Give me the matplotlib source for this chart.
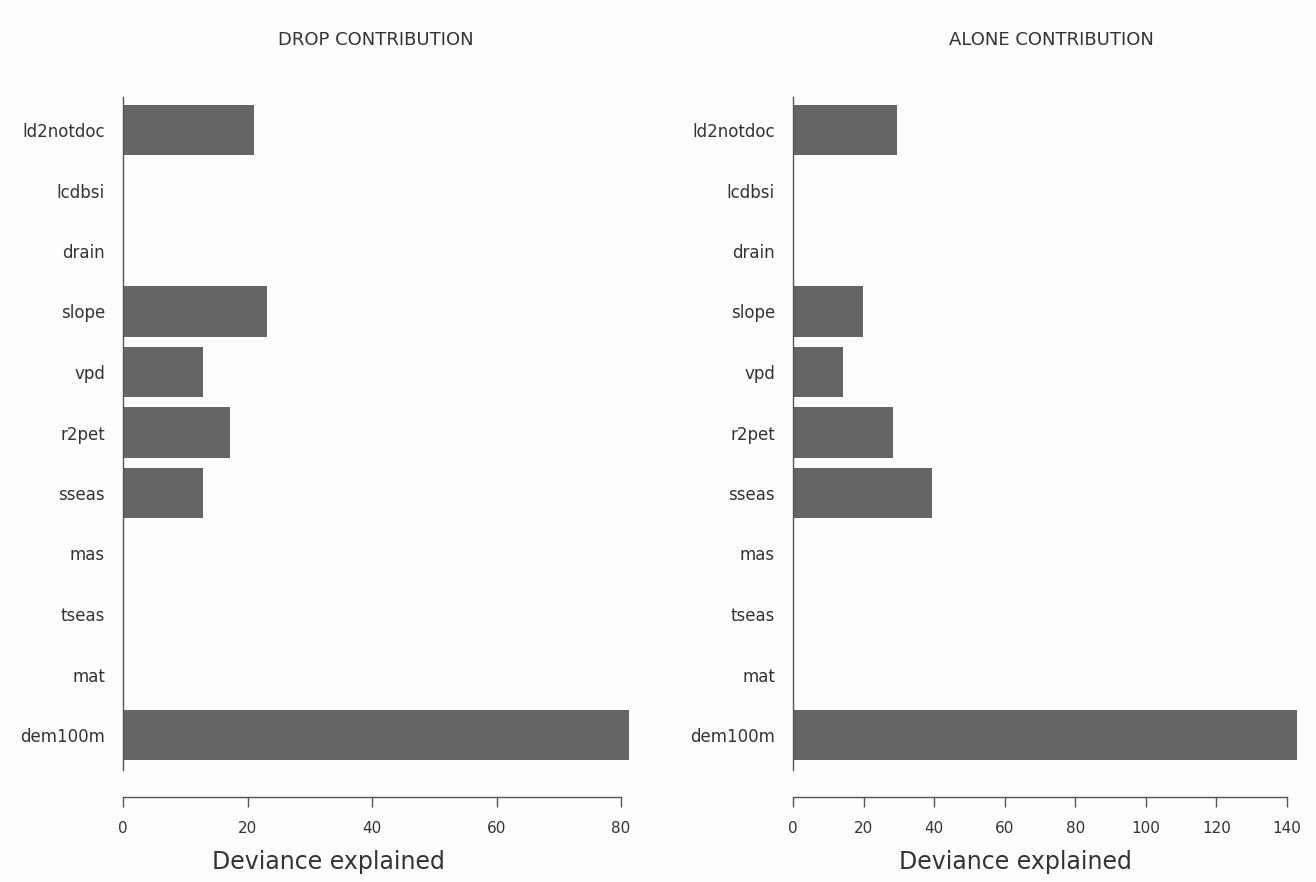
import numpy as np
import matplotlib.pyplot as plt

# predictor names, bottom to top as drawn
predictors = ["dem100m", "mat", "tseas", "mas", "sseas", "r2pet",
              "vpd", "slope", "drain", "lcdbsi", "ld2notdoc"]

# deviance explained when each predictor is dropped / used alone
drop_contrib = [81.3, 0, 0, 0, 12.8, 17.2, 12.8, 23.1, 0, 0, 21.1]
alone_contrib = [142.8, 0, 0, 0, 39.4, 28.3, 14.2, 19.8, 0, 0, 29.5]

drop_ticks = [0, 20, 40, 60, 80]
alone_ticks = [0, 20, 40, 60, 80, 100, 120, 140]

bar_col = "#646567"
axis_col = "#555555"
text_col = "#333333"

W, H = 1316, 882
fig = plt.figure(figsize=(W / 100, H / 100), dpi=100)
fig.patch.set_facecolor("#fdfdfd")

# pixel layout of each panel: left, last tick, right, x-label centre, title centre
panels = [
    ("DROP CONTRIBUTION", drop_contrib, drop_ticks, 123, 621, 640, 328, 376),
    ("ALONE CONTRIBUTION", alone_contrib, alone_ticks, 793, 1287, 1310, 1015, 1051),
]
top_px, bottom_px = 90, 797
y_first, y_last = 735, 130  # centres of lowest and highest bars
step = (y_first - y_last) / (len(predictors) - 1)

for title, vals, ticks, x0, xtick_end, x1, xlab_c, title_c in panels:
    ax = fig.add_axes([x0 / W, 1 - bottom_px / H, (x1 - x0) / W,
                       (bottom_px - top_px) / H])
    ax.set_facecolor("none")
    per_unit = (xtick_end - x0) / ticks[-1]
    ax.set_xlim(0, (x1 - x0) / per_unit)
    ylo = -(bottom_px - y_first) / step
    yhi = len(predictors) - 1 + (y_last - top_px) / step
    ax.set_ylim(ylo, yhi)

    pos = np.arange(len(predictors))
    ax.barh(pos, vals, height=0.84, color=bar_col, edgecolor="none")

    ax.set_yticks(pos)
    ax.set_yticklabels(predictors)
    ax.set_xticks(ticks)
    ax.tick_params(axis="y", length=0, pad=13, labelsize=12,
                   labelcolor=text_col)
    ax.tick_params(axis="x", length=7, width=1, direction="out",
                   color=axis_col, pad=10, labelsize=11,
                   labelcolor=text_col)

    for s in ["top", "right"]:
        ax.spines[s].set_visible(False)
    ax.spines["bottom"].set_bounds(ticks[0], ticks[-1])
    ax.spines["left"].set_bounds(-(770 - y_first) / step,
                                 len(predictors) - 1 + (y_last - 97) / step)
    for s in ["bottom", "left"]:
        ax.spines[s].set_color(axis_col)
        ax.spines[s].set_linewidth(1)

    ax.set_xlabel("Deviance explained", fontsize=17, color=text_col)
    ax.xaxis.set_label_coords((xlab_c - x0) / (x1 - x0),
                              -(862 - bottom_px) / (bottom_px - top_px),
                              transform=ax.transAxes)
    ax.xaxis.label.set_va("center")
    fig.text(title_c / W, 1 - 40 / H, title, fontsize=13, color=text_col,
             ha="center", va="center")

fig.savefig("out.png", dpi=100, facecolor=fig.get_facecolor())
